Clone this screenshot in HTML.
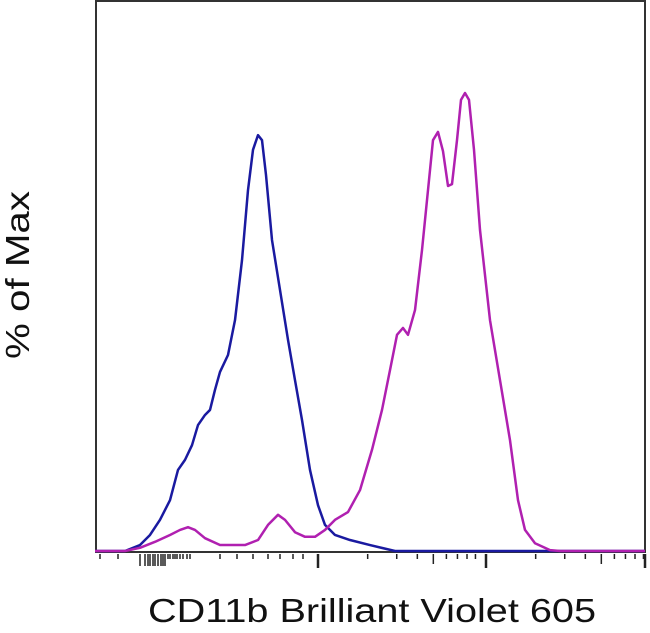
<!DOCTYPE html>
<html><head><meta charset="utf-8"><style>
body{margin:0;background:#fff;}
svg{display:block;font-family:"Liberation Sans",sans-serif;}
</style></head><body>
<svg id="chart" width="650" height="633">
<rect x="96" y="1" width="549" height="551" fill="none" stroke="#333" stroke-width="2"/>
<g id="ticks"></g>
<g id="series"></g>
<text transform="translate(29,275) rotate(-90)" text-anchor="middle" font-size="33" textLength="168" lengthAdjust="spacingAndGlyphs" fill="#111">% of Max</text>
<text x="372" y="622" text-anchor="middle" font-size="33" textLength="448" lengthAdjust="spacingAndGlyphs" fill="#111">CD11b Brilliant Violet 605</text>
</svg>
<script>
const blueX=[0,30,45,55,65,75,83,90,97,103,110,115,120,125,133,140,147,153,158,163,167,171,177,185,193,200,207,215,223,230,240,255,275,300,550];
const blueY=[0,0,1.3,3.5,6.8,11.1,17.7,19.9,23.1,27.5,29.7,30.8,35.2,39.1,42.8,50.4,63.5,78.8,87.6,90.8,89.7,82.1,67.9,57.0,46.1,37.3,28.6,17.7,10.0,5.7,3.5,2.4,1.3,0,0];
const magX=[0,30,45,60,75,85,93,100,110,125,150,163,173,183,190,200,210,220,230,240,253,265,277,287,295,302,308,313,320,327,333,338,343,348,353,357,362,366,370,374,379,385,395,405,415,423,430,440,455,465,550];
const magY=[0,0,0.7,2.0,3.5,4.6,5.2,4.6,2.8,1.3,1.3,2.4,5.7,7.9,6.8,4.1,3.1,3.1,4.6,6.8,8.5,13.3,22.1,30.8,39.5,47.2,48.7,47.2,52.6,65.7,78.8,89.7,91.5,87.3,79.7,80.1,89.7,98.5,100,98.5,87.6,70.1,50.4,37.3,24.2,11.1,4.6,1.7,0.2,0,0];
const tickCh=[5,23,45,50,53,55,58,60,63,66,68,70,73,75,78,80,82,85,88,92,95,125,142,158,173,185,198,208];
const majorCh=[223,391,550];
const sx=c=>95+c;
const sy=p=>551-p*4.58;
const NS="http://www.w3.org/2000/svg";
const tg=document.getElementById('ticks');
function tick(c,len,w){const l=document.createElementNS(NS,'line');


l.setAttribute('x1',sx(c));l.setAttribute('x2',sx(c));l.setAttribute('y1',554);l.setAttribute('y2',554+len);
l.setAttribute('stroke','#222');l.setAttribute('stroke-width',w);tg.appendChild(l);}
tickCh.forEach(c=>tick(c,c>=40&&c<=70?12:5,1.5));
majorCh.forEach(c=>tick(c,14,2.5));
for(let d=0;d<2;d++)for(let k=2;k<10;k++)tick(majorCh[d]+165*Math.log10(k),k==5?10:5,1.5);
const sg=document.getElementById('series');
function series(xs,ys,col,name){const p=document.createElementNS(NS,'polyline');


p.setAttribute('points',xs.map((x,i)=>sx(x)+','+sy(ys[i])).join(' '));
p.setAttribute('fill','none');p.setAttribute('stroke',col);p.setAttribute('stroke-width',2.5);p.setAttribute('stroke-linejoin','round');sg.appendChild(p);}
series(blueX,blueY,'#1a1aa0','isotype-control-curve');
series(magX,magY,'#b020b0','cd11b-stained-curve');
</script>
</body></html>
